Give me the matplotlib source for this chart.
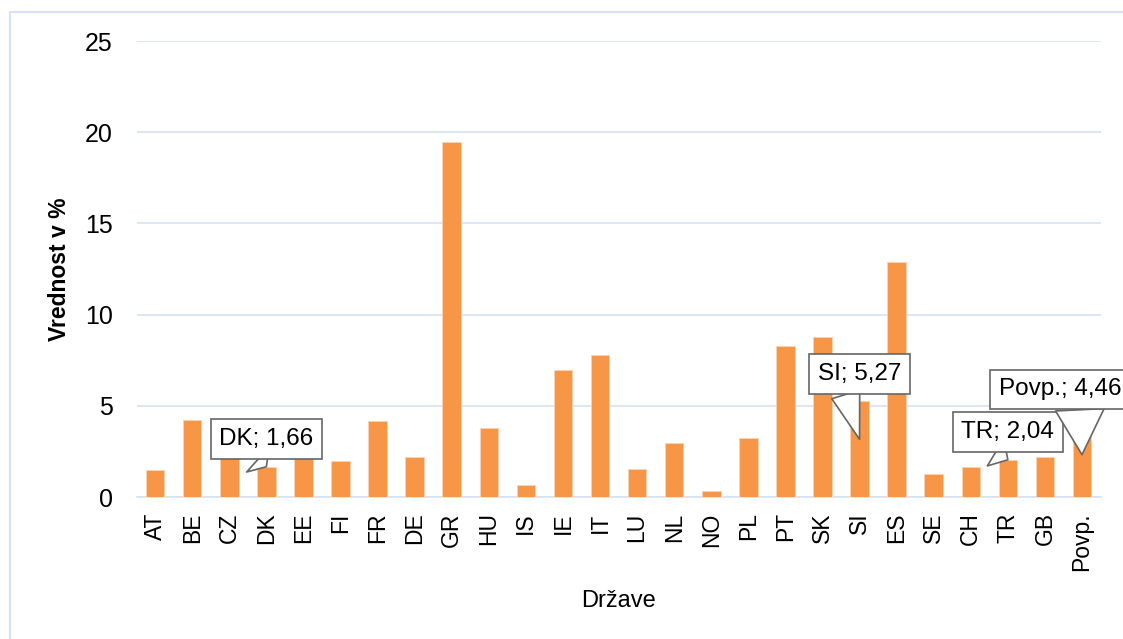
import matplotlib.pyplot as plt
from matplotlib.patches import Rectangle

plt.rcParams['font.family'] = ['Liberation Sans', 'DejaVu Sans']

# podatki
drzave = ['AT', 'BE', 'CZ', 'DK', 'EE', 'FI', 'FR', 'DE', 'GR', 'HU', 'IS', 'IE', 'IT',
          'LU', 'NL', 'NO', 'PL', 'PT', 'SK', 'SI', 'ES', 'SE', 'CH', 'TR', 'GB', 'Povp.']
vrednosti = [1.50, 4.21, 2.30, 1.66, 2.40, 1.95, 4.18, 2.17, 19.47, 3.76, 0.64, 6.96, 7.77,
             1.56, 2.95, 0.35, 3.21, 8.27, 8.77, 5.27, 12.90, 1.27, 1.66, 2.04, 2.20, 4.46]
y_ticks = [0, 5, 10, 15, 20, 25]

barva = '#F79646'
mreza = '#D6E2F3'

fig = plt.figure(figsize=(11.23, 6.39), dpi=100)
ax = fig.add_axes([0.1216, 0.2222, 0.8584, 0.7136])

# okvir grafa
fig.patches.append(Rectangle((10 / 1123, -0.1), 1.2, 1.1 - 12 / 639, transform=fig.transFigure,
                             fill=False, edgecolor=mreza, linewidth=1.5))

x = range(len(drzave))
ax.bar(x, vrednosti, width=0.5, color=barva, edgecolor='#FAD3B4', linewidth=0.6, zorder=3)

ax.set_xlim(-0.5, len(drzave) - 0.5)
ax.set_ylim(0, 25)
ax.set_yticks(y_ticks)
ax.set_xticks(list(x))
ax.set_xticklabels(drzave, rotation=90)
ax.yaxis.grid(True, color=mreza, linewidth=1.2, zorder=0)
ax.tick_params(axis='both', length=0)
ax.tick_params(axis='y', pad=17, labelsize=18)
ax.tick_params(axis='x', pad=11, labelsize=16.5)
for s in ['top', 'right', 'left']:
    ax.spines[s].set_visible(False)
ax.spines['bottom'].set_color(mreza)
ax.spines['bottom'].set_linewidth(1.2)

ax.set_xlabel('Države', fontsize=17)
ax.xaxis.set_label_coords(0.5, -0.205)
ax.set_ylabel('Vrednost v %', fontsize=16.5, fontweight='bold')
ax.yaxis.set_label_coords(-0.068, 0.5)

# oznake podatkov (oblački)
oznake = [('DK', 1.0, (0, 20), 0.30, 1.4),
          ('SI', 0.6, (0, 47), 0.30, 1.2),
          ('TR', 1.0, (0, 20), 0.20, 1.3),
          ('Povp.', 0.52, (-16, 47), 0.66, 2.0)]
for ime, f, odmik, rel, sirina in oznake:
    i = drzave.index(ime)
    v = vrednosti[i]
    besedilo = '%s; %s' % (ime, ('%.2f' % v).replace('.', ','))
    ax.annotate(besedilo, xy=(i, v * f), xytext=odmik, textcoords='offset points',
                ha='center', va='center', fontsize=17.5, zorder=5, annotation_clip=False,
                bbox=dict(boxstyle='square,pad=0.36', fc='white', ec='#666666', lw=1.2),
                arrowprops=dict(arrowstyle='wedge,tail_width=%.2f' % sirina, fc='white',
                                ec='#666666', lw=1.2, relpos=(rel, 0), shrinkA=0, shrinkB=0))

fig.savefig('out.png', dpi=100)
